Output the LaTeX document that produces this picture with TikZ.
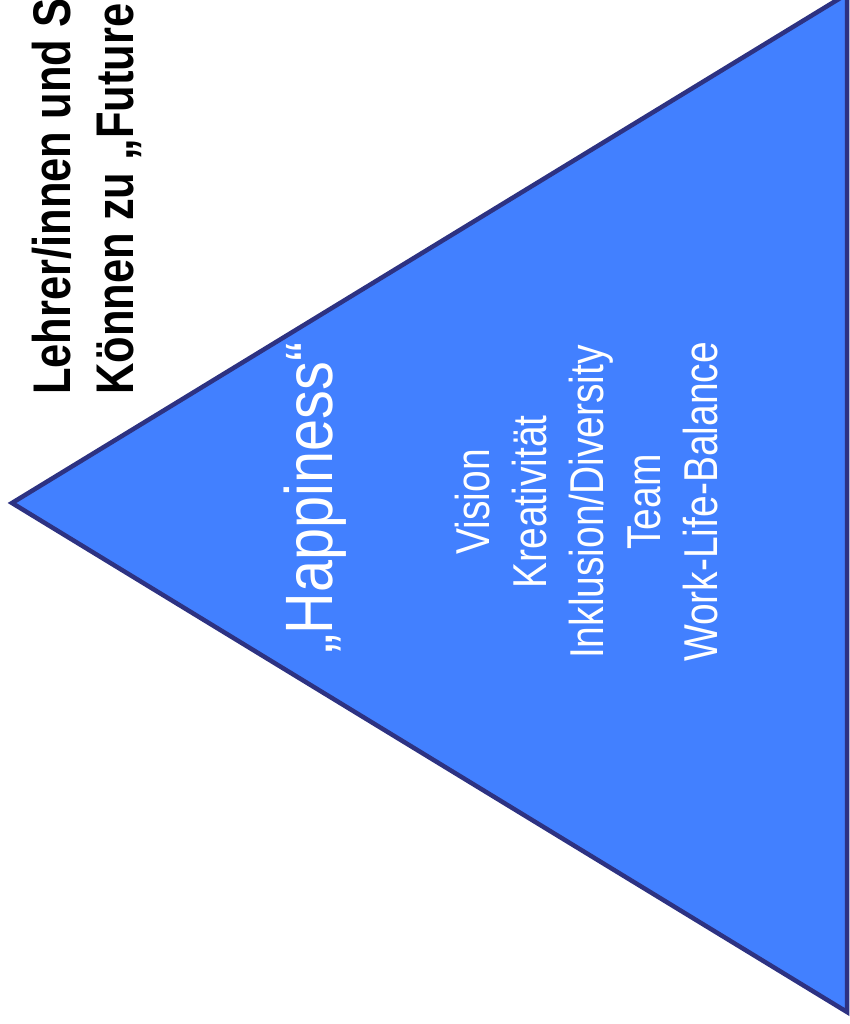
\documentclass[tikz,border=0pt]{standalone}
\usepackage{fontspec}
\setmainfont[FakeStretch=0.82]{Liberation Sans}
\newfontfamily\hapfont[FakeStretch=0.86]{Liberation Sans}
\definecolor{trifill}{RGB}{66,128,255}
\definecolor{triline}{RGB}{45,50,130}
\begin{document}
\begin{tikzpicture}[x=1bp,y=1bp,
  titletext/.style={rotate=90,anchor=base west,inner sep=0pt,text=black,font=\fontsize{53bp}{63bp}\selectfont\bfseries},
  bigtext/.style={rotate=90,anchor=base,inner sep=0pt,text=white,font=\hapfont\fontsize{67bp}{80bp}\selectfont},
  itemtext/.style={rotate=90,anchor=base,inner sep=0pt,text=white,font=\fontsize{47.5bp}{57bp}\selectfont}]
\useasboundingbox (0,0) rectangle (850,1024);
\begin{scope}
\clip (0,0) rectangle (850,1024);
\coordinate (apex) at (12,521);
\coordinate (tc) at (847,1030);
\coordinate (bc) at (847,12);
\filldraw[fill=trifill,draw=triline,line width=4.5bp,line join=miter] (apex) -- (tc) -- (bc) -- cycle;
\node[titletext] (t1) at (70,629) {Lehrer/innen und S};
\node[titletext] (t2) at (133,629) {Können zu „Future};
\node[bigtext] (hap) at (332,526) {„Happiness“};
\node[itemtext] (i1) at (489,522) {Vision};
\node[itemtext] (i2) at (546,522) {Kreativität};
\node[itemtext] (i3) at (603,522) {Inklusion/Diversity};
\node[itemtext] (i4) at (660,522) {Team};
\node[itemtext] (i5) at (717,522) {Work-Life-Balance};
\end{scope}
\end{tikzpicture}
\end{document}
